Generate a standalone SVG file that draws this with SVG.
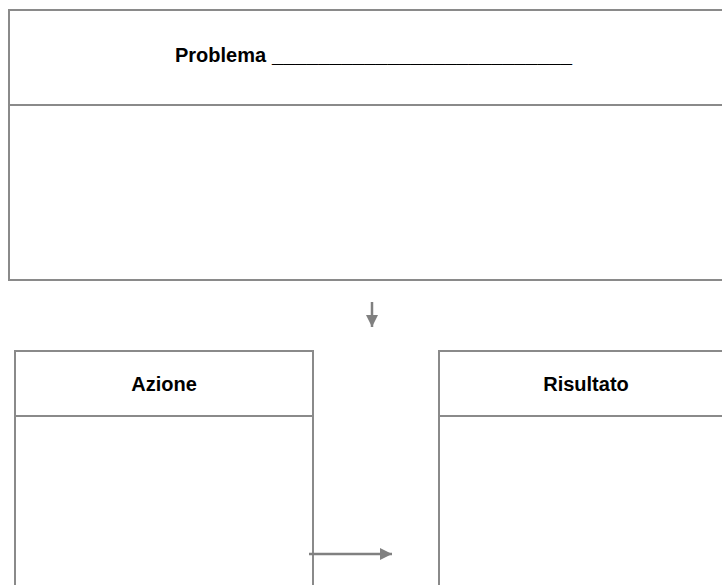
<svg xmlns="http://www.w3.org/2000/svg" width="722" height="585" viewBox="0 0 722 585">
<style>
.frame{fill:none;stroke:#8a8a8a;stroke-width:2}
.conn{stroke:#808080;stroke-width:2.5;fill:none}
.lbl{font-family:"Liberation Sans",Arial,sans-serif;font-weight:bold;font-size:20px;fill:#000}
</style>
<defs>
<marker id="ah" viewBox="0 0 12 12" refX="12" refY="6" markerWidth="12" markerHeight="12" markerUnits="userSpaceOnUse" orient="auto">
<path d="M0,0 L12,6 L0,12 z" fill="#808080"/>
</marker>
</defs>
<rect width="722" height="585" fill="#fff"/>
<g id="problema">
<path class="frame" d="M723,10 H9 V280 H723"/>
<line class="frame" x1="9" y1="105" x2="723" y2="105"/>
<text class="lbl" x="175" y="62">Problema <tspan x="272" textLength="300" lengthAdjust="spacingAndGlyphs">__________________________</tspan></text>
</g>
<g id="azione">
<path class="frame" d="M15,590 V351 H313 V590"/>
<line class="frame" x1="15" y1="416" x2="313" y2="416"/>
<text class="lbl" x="164" y="391" text-anchor="middle">Azione</text>
</g>
<g id="risultato">
<path class="frame" d="M723,351 H439 V590"/>
<line class="frame" x1="439" y1="416" x2="723" y2="416"/>
<text class="lbl" x="586" y="391" text-anchor="middle">Risultato</text>
</g>
<g id="connectors">
<line class="conn" x1="372" y1="302" x2="372" y2="327" marker-end="url(#ah)"/>
<line class="conn" x1="309" y1="554" x2="392" y2="554" marker-end="url(#ah)"/>
</g>
</svg>
